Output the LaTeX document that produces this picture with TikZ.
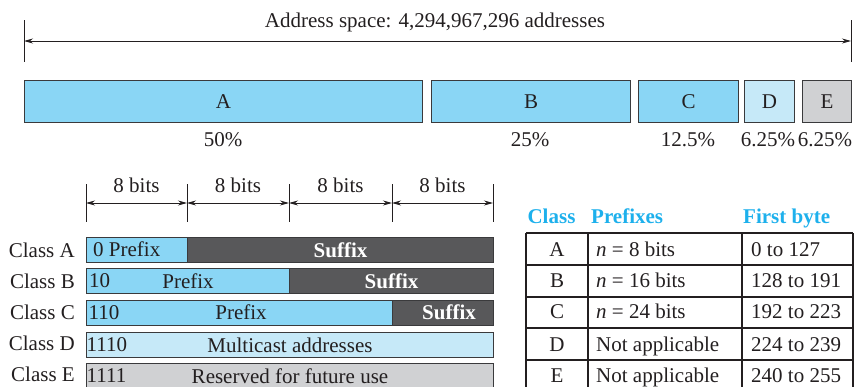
\documentclass[tikz,border=0pt]{standalone}
\usepackage{fontspec}
\setmainfont{Liberation Serif}
\usetikzlibrary{arrows.meta}
\definecolor{ablue}{HTML}{8AD6F5}
\definecolor{dblue}{HTML}{C6E9F8}
\definecolor{egray}{HTML}{D0D1D3}
\definecolor{dark}{HTML}{58585A}
\definecolor{hcyan}{HTML}{1DB0EC}
\definecolor{txt}{HTML}{231F20}
\definecolor{edge}{HTML}{3A3A3C}
\begin{document}
\begin{tikzpicture}[x=1pt,y=-1pt,
  every node/.style={font=\fontsize{21}{25}\selectfont, text=txt, inner sep=0pt},
  bar/.style={draw=edge, line width=1pt, anchor=north west, text height=14.5pt, text depth=0pt},
  lbl/.style={anchor=base},
  lblw/.style={anchor=base west},
  lble/.style={anchor=base east},
  hdr/.style={font=\fontsize{21}{25}\selectfont\bfseries, text=hcyan},
  suf/.style={font=\fontsize{21}{25}\selectfont\bfseries, text=white},
  dim/.style={draw=txt, line width=0.8pt},
  tip/.style={dim, {Stealth[length=9pt,width=5pt]}-{Stealth[length=9pt,width=5pt]}},
  grid/.style={draw=txt, line width=1.1pt}]
\useasboundingbox (0,0) rectangle (855,386);

% ---- address space
\coordinate (t1a) at (24,20); \coordinate (t1b) at (24,62);
\coordinate (t2a) at (851,20); \coordinate (t2b) at (851,62);
\coordinate (aL) at (24,41); \coordinate (aR) at (851,41);
\draw[dim] (t1a) -- (t1b);
\draw[dim] (t2a) -- (t2b);
\draw[tip] (aL) -- (aR);
\node[lbl] (title) at (435,27) {Address space: 4,294,967,296 addresses};

\node[bar, fill=ablue, minimum width=398pt, minimum height=42pt] (A) at (24,80) {A};
\node[bar, fill=ablue, minimum width=199pt, minimum height=42pt] (B) at (431,80) {B};
\node[bar, fill=ablue, minimum width=100pt, minimum height=42pt] (C) at (638,80) {C};
\node[bar, fill=dblue, minimum width=50pt, minimum height=42pt] (D) at (744,80) {D};
\node[bar, fill=egray, minimum width=49pt, minimum height=42pt] (E) at (802,80) {E};

\node[lbl] (pA) at (223,146) {50\%};
\node[lbl] (pB) at (530,146) {25\%};
\node[lbl] (pC) at (688,146) {12.5\%};
\node[lbl] (pD) at (768,146) {6.25\%};
\node[lbl] (pE) at (825,146) {6.25\%};

% ---- bits
\foreach \x [count=\i] in {86,187,289,392,493} {
  \coordinate (b\i t) at (\x,184);
  \coordinate (b\i b) at (\x,222);
  \coordinate (b\i m) at (\x,203);
  \draw[dim] (b\i t) -- (b\i b);
}
\foreach \i/\j/\x in {1/2/136.5,2/3/238,3/4/340.5,4/5/442.5} {
  \draw[tip] (b\i m) -- (b\j m);
  \node[lbl] (bits\i) at (\x,192) {8 bits};
}

% ---- class rows
\node[lble] (cA) at (75,257) {Class A};
\node[lble] (cB) at (75,288) {Class B};
\node[lble] (cC) at (75,319) {Class C};
\node[lble] (cD) at (75,350) {Class D};
\node[lble] (cE) at (75,381) {Class E};

\node[bar, fill=ablue, minimum width=101pt, minimum height=24.5pt] (rAp) at (86,237) {};
\node[bar, fill=dark, minimum width=306pt, minimum height=24.5pt, suf] (rAs) at (187,237) {Suffix};
\node[lblw] (rAt) at (93,256.5) {0 Prefix};

\node[bar, fill=ablue, minimum width=203pt, minimum height=24.5pt] (rBp) at (86,268) {Prefix};
\node[bar, fill=dark, minimum width=204pt, minimum height=24.5pt, suf] (rBs) at (289,268) {Suffix};
\node[lblw] (rBt) at (89,287.5) {10};

\node[bar, fill=ablue, minimum width=306pt, minimum height=24.5pt] (rCp) at (86,300) {};
\node[lbl] (rCpt) at (241,319) {Prefix};
\node[bar, fill=dark, minimum width=101pt, minimum height=24.5pt] (rCs) at (392,300) {};
\node[lbl, suf] (rCst) at (449,319) {Suffix};
\node[lblw] (rCt) at (88.5,319) {110};

\node[bar, fill=dblue, minimum width=407pt, minimum height=24.5pt] (rD) at (86,332) {Multicast addresses};
\node[lblw] (rDt) at (86.5,351) {1110};

\node[bar, fill=egray, minimum width=407pt, minimum height=24.5pt] (rE) at (86,363) {Reserved for future use};
\node[lblw] (rEt) at (86.5,382) {1111};

% ---- table
\node[lbl, hdr] (hC) at (551.5,223) {Class};
\node[lblw, hdr] (hP) at (591,223) {Prefixes};
\node[lblw, hdr] (hF) at (743,223) {First byte};

\coordinate (tl) at (526,233); \coordinate (tr) at (853,233);
\coordinate (bl) at (526,395); \coordinate (br) at (853,395);
\draw[grid] (tl) -- (tr);
\foreach \y [count=\k] in {265,297,328,360} {
  \coordinate (h\k l) at (526,\y); \coordinate (h\k r) at (853,\y);
  \draw[grid] (h\k l) -- (h\k r);
}
\foreach \x [count=\k] in {526,588,742,853} {
  \coordinate (v\k t) at (\x,233); \coordinate (v\k b) at (\x,395);
  \draw[grid] (v\k t) -- (v\k b);
}
\foreach \c/\p/\f/\y [count=\k] in {A/{\textit{n} = 8 bits}/{0 to 127}/256,
    B/{\textit{n} = 16 bits}/{128 to 191}/287,
    C/{\textit{n} = 24 bits}/{192 to 223}/318,
    D/{Not applicable}/{224 to 239}/351,
    E/{Not applicable}/{240 to 255}/382} {
  \node[lbl] (tc\k) at (557,\y) {\c};
  \node[lblw] (tp\k) at (596,\y) {\p};
  \node[lblw] (tf\k) at (751,\y) {\f};
}
\end{tikzpicture}
\end{document}
